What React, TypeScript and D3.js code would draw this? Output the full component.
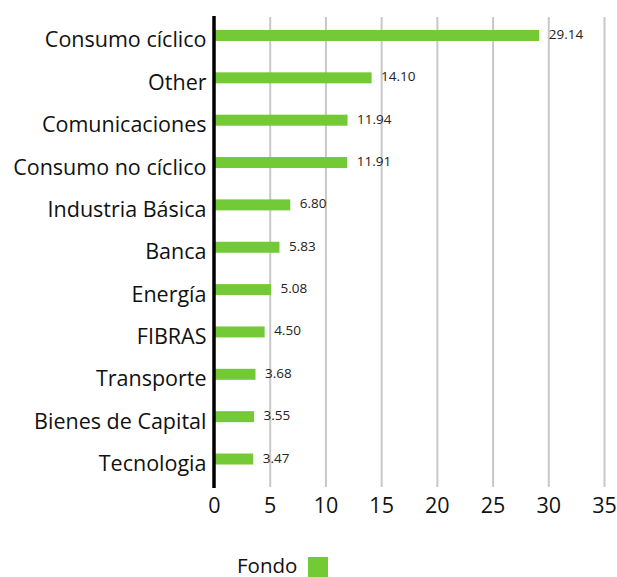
import React from "react";
import * as d3 from "d3";

const categories = [
  "Consumo cíclico",
  "Other",
  "Comunicaciones",
  "Consumo no cíclico",
  "Industria Básica",
  "Banca",
  "Energía",
  "FIBRAS",
  "Transporte",
  "Bienes de Capital",
  "Tecnologia",
];
const values = [29.14, 14.1, 11.94, 11.91, 6.8, 5.83, 5.08, 4.5, 3.68, 3.55, 3.47];
const ticks = [0, 5, 10, 15, 20, 25, 30, 35];
const seriesName = "Fondo";

const W = 617;
const H = 577;
const GREEN = "#74c936";
const FONT = "'Open Sans', sans-serif";

export default function App() {
  const x = d3.scaleLinear().domain([0, 35]).range([214.5, 604.5]);
  const y = d3
    .scaleBand<string>()
    .domain(categories)
    .range([14.3, 480.2])
    .paddingInner(0.74)
    .paddingOuter(0.37);
  const bh = 11;
  return (
    <svg
      width={W}
      height={H}
      style={{ position: "absolute", left: 0, top: 0 }}
      fontFamily={FONT}
    >
      {ticks.slice(1).map((t) => (
        <line
          key={"g" + t}
          x1={x(t)}
          x2={x(t)}
          y1={17}
          y2={487}
          stroke="#c8c8c8"
          strokeWidth={2}
        />
      ))}
      {categories.map((c, i) => {
        const cy = (y(c) as number) + y.bandwidth() / 2;
        return (
          <g key={c}>
            <rect
              x={x(0)}
              y={cy - bh / 2}
              width={x(values[i]) - x(0)}
              height={bh}
              fill={GREEN}
            />
            <text
              x={x(values[i]) + 9.5}
              y={cy + 3.5}
              fontSize={13.5}
              fill="#222"
            >
              {values[i].toFixed(2)}
            </text>
            <text
              x={206.5}
              y={cy + 12}
              fontSize={21.5}
              textAnchor="end"
              fill="#111"
            >
              {c}
            </text>
          </g>
        );
      })}
      <line x1={214} x2={214} y1={16} y2={488} stroke="#000" strokeWidth={3.5} />
      {ticks.map((t) => (
        <text
          key={"t" + t}
          x={x(t)}
          y={513}
          fontSize={21.5}
          textAnchor="middle"
          fill="#111"
        >
          {t}
        </text>
      ))}
      <text x={237} y={573} fontSize={20.5} fill="#111">
        {seriesName}
      </text>
      <rect x={308} y={557} width={20} height={20} fill={GREEN} />
    </svg>
  );
}
